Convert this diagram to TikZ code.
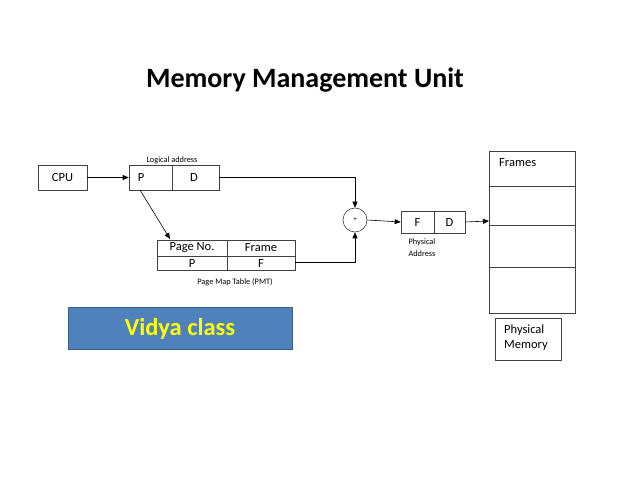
\documentclass[tikz,border=0pt]{standalone}
\usepackage{fontspec}
\setmainfont{Carlito}
\usetikzlibrary{arrows.meta}
\definecolor{vblue}{HTML}{4F81BD}
\definecolor{vborder}{HTML}{385D8A}
\definecolor{vyellow}{HTML}{FFFF00}
\begin{document}
\begin{tikzpicture}[x=1pt,y=-1pt,
  box/.style={draw=black!75,line width=0.6pt,minimum height=25pt,inner sep=0pt,font=\fontsize{12.5}{12.5}\selectfont},
  cell/.style={draw=black!75,line width=0.6pt,inner sep=0pt,font=\fontsize{12.5}{12.5}\selectfont},
  txt/.style={font=\fontsize{12.5}{12.5}\selectfont,inner sep=0pt},
  small/.style={font=\fontsize{8.3}{10}\selectfont,inner sep=0pt,align=center},
  conn/.style={line width=0.6pt,-{Triangle[length=6pt,width=5pt]}},
  plain/.style={line width=0.6pt}]
\useasboundingbox (0,0) rectangle (638,478);
% title
\node[font=\fontsize{28}{28}\selectfont\bfseries] (title) at (305,80) {Memory Management Unit};
% CPU
\node[box,minimum width=49pt] (cpu) at (62.5,177.5) {CPU};
% logical address
\node[cell,minimum width=43pt,minimum height=25pt] (p) at (150.5,177.5) {};
\node[cell,minimum width=47pt,minimum height=25pt] (d) at (195.5,177.5) {};
\node[txt] (pt) at (141,177.5) {P};
\node[txt] (dt) at (194,177.5) {D};
\node[small] (la) at (172,160) {Logical address};
\draw[conn] (cpu.east) -- (p.west);
% PMT
\node[cell,minimum width=70pt,minimum height=16pt] (pn) at (192,248) {Page No.};
\node[cell,minimum width=68pt,minimum height=16pt] (fr) at (261,248) {Frame};
\node[cell,minimum width=70pt,minimum height=14pt] (pv) at (192,263) {P};
\node[cell,minimum width=68pt,minimum height=14pt] (fv) at (261,263) {F};
\node[small] (pmt) at (235,282) {Page Map Table (PMT)};
\coordinate (ptip) at (170,239);
\draw[conn] (140,190) -- (ptip);
% adder
\node[draw=black!75,line width=0.6pt,circle,minimum size=24pt,inner sep=0pt,font=\fontsize{7}{7}\selectfont] (add) at (355,220) {+};
\coordinate (c1) at (355,177.5);
\coordinate (c2) at (355,262);
\draw[conn] (d.east) -- (c1) -- (add.north);
\draw[conn] (fv.east |- c2) -- (c2) -- (add.south);
% physical address
\node[cell,minimum width=33pt,minimum height=22pt] (f2) at (417.5,222) {F};
\node[cell,minimum width=31pt,minimum height=22pt] (d2) at (449.5,222) {D};
\node[small] (pa) at (422,248) {Physical\\[2pt]Address};
\draw[conn] (add.east) -- (f2.west);
% frames
\node[cell,minimum width=86pt,minimum height=35pt,anchor=north west] (m1) at (489,151) {};
\node[cell,minimum width=86pt,minimum height=39pt,anchor=north west] (m2) at (489,186) {};
\node[cell,minimum width=86pt,minimum height=42pt,anchor=north west] (m3) at (489,225) {};
\node[cell,minimum width=86pt,minimum height=46pt,anchor=north west] (m4) at (489,267) {};
\node[txt,anchor=west] (frt) at (499,163) {Frames};
\draw[conn] (d2.east) -- (m3.north west |- 0,221);
% physical memory
\node[cell,minimum width=66pt,minimum height=42pt,anchor=north west] (pm) at (495,318) {};
\node[font=\fontsize{12.5}{15}\selectfont,align=left,anchor=west,inner sep=0pt] (pmt2) at (504,338) {Physical\\Memory};
% vidya
\node[draw=vborder,fill=vblue,line width=1pt,minimum width=224pt,minimum height=42pt,inner sep=0pt,text=vyellow,font=\fontsize{24.5}{24.5}\selectfont\bfseries] (vc) at (180,329) {Vidya class};
\end{tikzpicture}
\end{document}
